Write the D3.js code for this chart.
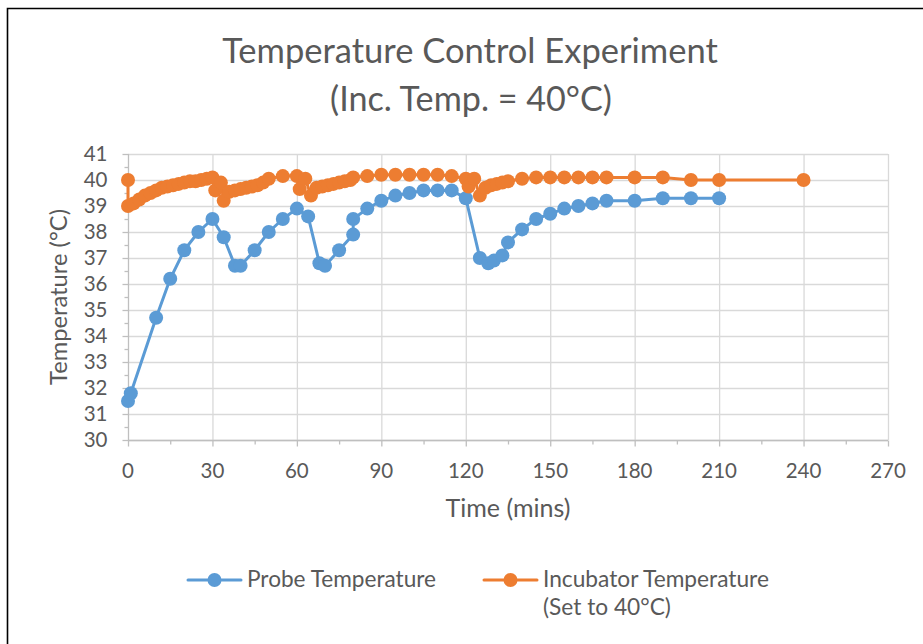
<!DOCTYPE html>
<html>
<head>
<meta charset="utf-8">
<script src="https://cdn.jsdelivr.net/npm/d3@7"></script>
<style>
  html, body { margin: 0; padding: 0; background: #fff; }
  svg { display: block; font-family: Lato, "Open Sans", sans-serif; }
</style>
</head>
<body>
<svg id="chart" width="923" height="644"></svg>
<script>
// ---- data ----
const titleLines = ["Temperature Control Experiment", "(Inc. Temp. = 40°C)"];
const xLabel = "Time (mins)";
const yLabel = "Temperature (°C)";
const seriesNames = ["Probe Temperature", "Incubator Temperature"];
const incubatorNote = "(Set to 40°C)";

const xTicks = [0, 30, 60, 90, 120, 150, 180, 210, 240, 270];
const yTicks = [30, 31, 32, 33, 34, 35, 36, 37, 38, 39, 40, 41];

const probeTime = [0, 1, 10, 15, 20, 25, 30, 34, 38, 40, 45, 50, 55, 60, 64, 68, 70, 75, 80, 80,
  85, 90, 95, 100, 105, 110, 115, 120, 125, 128, 130, 133, 135, 140, 145, 150, 155, 160, 165, 170,
  180, 190, 200, 210];
const probeTemp = [31.5, 31.8, 34.7, 36.2, 37.3, 38.0, 38.5, 37.8, 36.7, 36.7, 37.3, 38.0, 38.5, 38.9, 38.6, 36.8, 36.7, 37.3, 37.9, 38.5,
  38.9, 39.2, 39.4, 39.5, 39.6, 39.6, 39.6, 39.3, 37.0, 36.8, 36.9, 37.1, 37.6, 38.1, 38.5, 38.7, 38.9, 39.0, 39.1, 39.2,
  39.2, 39.3, 39.3, 39.3];

const incTime = [0, 0, 2, 4, 6, 8, 10, 12, 14, 16, 18, 20, 22, 24, 26, 28, 30, 31, 33, 34,
  36, 38, 40, 42, 44, 46, 48, 50, 55, 60, 61, 63, 65, 67, 69, 71, 73, 75, 77, 79,
  80, 85, 90, 95, 100, 105, 110, 115, 120, 121, 123, 125, 127, 129, 131, 133, 135, 140, 145, 150,
  155, 160, 165, 170, 180, 190, 200, 210, 240];
const incTemp = [40.0, 39.0, 39.1, 39.25, 39.4, 39.5, 39.6, 39.7, 39.75, 39.8, 39.85, 39.9, 39.95, 39.95, 40.0, 40.05, 40.1, 39.6, 39.9, 39.2,
  39.55, 39.6, 39.65, 39.7, 39.75, 39.8, 39.9, 40.05, 40.15, 40.15, 39.65, 40.05, 39.4, 39.7, 39.75, 39.8, 39.85, 39.9, 39.95, 40.0,
  40.1, 40.15, 40.2, 40.2, 40.2, 40.2, 40.2, 40.15, 40.05, 39.75, 40.05, 39.4, 39.7, 39.8, 39.85, 39.9, 39.95, 40.05, 40.1, 40.1,
  40.1, 40.1, 40.1, 40.1, 40.1, 40.1, 40.0, 40.0, 40.0];

// ---- layout ----
const W = 923, H = 644;
const plot = { left: 128, right: 888, top: 154, bottom: 440 };
const colors = { probe: "#5B9BD5", inc: "#ED7D31", text: "#595959", grid: "#D9D9D9", axis: "#BFBFBF" };

const svg = d3.select("#chart");

svg.append("rect").attr("width", W).attr("height", H).attr("fill", "#fff");
// frame (left and top visible; the rest falls outside the picture)
svg.append("path").attr("d", `M7.5,${H + 5} V8.5 H${W + 5}`)
  .attr("fill", "none").attr("stroke", "#000").attr("stroke-width", 1.6);

const x = d3.scaleLinear().domain([0, 270]).range([plot.left, plot.right]);
const y = d3.scaleLinear().domain([30, 41]).range([plot.bottom, plot.top]);

function fit(sel, target) {
  const node = sel.node();
  const fs = parseFloat(sel.attr("font-size"));
  const w = node.getComputedTextLength();
  if (w > 0) sel.attr("font-size", (fs * target / w).toFixed(2));
  return sel;
}

// gridlines
svg.append("g").selectAll("line").data(yTicks).join("line")
  .attr("x1", plot.left).attr("x2", plot.right)
  .attr("y1", d => y(d) + 0.5).attr("y2", d => y(d) + 0.5)
  .attr("stroke", colors.grid).attr("stroke-width", 1.3);
svg.append("g").selectAll("line").data(xTicks.slice(1)).join("line")
  .attr("x1", d => x(d) + 0.5).attr("x2", d => x(d) + 0.5)
  .attr("y1", plot.top).attr("y2", plot.bottom)
  .attr("stroke", colors.grid).attr("stroke-width", 1.3);

// axes
const xMinor = d3.range(0, 271, 15);
const yMinor = d3.range(30, 41.01, 0.5);
const tickFont = 20.5;
const gx = svg.append("g").attr("transform", `translate(0,${plot.bottom + 0.5})`);
gx.append("line").attr("x1", plot.left).attr("x2", plot.right).attr("stroke", colors.axis).attr("stroke-width", 1.3);
gx.selectAll("line.t").data(xMinor).join("line").attr("class", "t")
  .attr("x1", d => x(d) + 0.5).attr("x2", d => x(d) + 0.5)
  .attr("y1", 0).attr("y2", d => d % 30 === 0 ? 6 : 4)
  .attr("stroke", colors.axis).attr("stroke-width", 1.3);
gx.selectAll("text").data(xTicks).join("text")
  .attr("x", d => x(d)).attr("y", 37)
  .attr("text-anchor", "middle").attr("font-size", tickFont).attr("fill", colors.text)
  .text(d => d);

const gy = svg.append("g").attr("transform", `translate(${plot.left + 0.5},0)`);
gy.append("line").attr("y1", plot.top).attr("y2", plot.bottom).attr("stroke", colors.axis).attr("stroke-width", 1.3);
gy.selectAll("line.t").data(yMinor).join("line").attr("class", "t")
  .attr("y1", d => y(d) + 0.5).attr("y2", d => y(d) + 0.5)
  .attr("x1", d => Number.isInteger(d) ? -6 : -4).attr("x2", 0)
  .attr("stroke", colors.axis).attr("stroke-width", 1.3);
gy.selectAll("text").data(yTicks).join("text")
  .attr("x", -21).attr("y", d => y(d)).attr("dy", "0.36em")
  .attr("text-anchor", "end").attr("font-size", tickFont).attr("fill", colors.text)
  .text(d => d);

// axis titles
fit(svg.append("text").attr("x", 508).attr("y", 517).attr("text-anchor", "middle")
  .attr("font-size", 20).attr("fill", colors.text).text(xLabel), 125);
fit(svg.append("text").attr("transform", `translate(67,${(plot.top + plot.bottom) / 2}) rotate(-90)`)
  .attr("text-anchor", "middle").attr("font-size", 20).attr("fill", colors.text).text(yLabel), 176);

// title
fit(svg.append("text").attr("x", 470).attr("y", 63).attr("text-anchor", "middle")
  .attr("font-size", 30).attr("fill", colors.text).text(titleLines[0]), 496);
fit(svg.append("text").attr("x", 471).attr("y", 111).attr("text-anchor", "middle")
  .attr("font-size", 30).attr("fill", colors.text).text(titleLines[1]), 282);

// series
const probe = probeTime.map((t, i) => [t, probeTemp[i]]);
const inc = incTime.map((t, i) => [t, incTemp[i]]);
const line = d3.line().x(d => x(d[0])).y(d => y(d[1]));
const R = 7;

function drawSeries(data, color) {
  const g = svg.append("g");
  g.append("path").datum(data).attr("d", line)
    .attr("fill", "none").attr("stroke", color).attr("stroke-width", 3)
    .attr("stroke-linejoin", "round").attr("stroke-linecap", "round");
  g.selectAll("circle").data(data).join("circle")
    .attr("cx", d => x(d[0])).attr("cy", d => y(d[1])).attr("r", R)
    .attr("fill", color);
}
drawSeries(probe, colors.probe);
drawSeries(inc, colors.inc);

// legend
const legend = [
  { name: seriesNames[0], color: colors.probe, x0: 188, w: 189, note: null },
  { name: seriesNames[1], color: colors.inc, x0: 484, w: 226, note: incubatorNote }
];
legend.forEach(l => {
  const g = svg.append("g");
  g.append("line").attr("x1", l.x0).attr("x2", l.x0 + 53).attr("y1", 580).attr("y2", 580)
    .attr("stroke", l.color).attr("stroke-width", 3).attr("stroke-linecap", "round");
  g.append("circle").attr("cx", l.x0 + 26.5).attr("cy", 580).attr("r", R).attr("fill", l.color);
  const t = fit(g.append("text").attr("x", l.x0 + 59).attr("y", 587).attr("font-size", 19)
    .attr("fill", colors.text).text(l.name), l.w);
  if (l.note) {
    g.append("text").attr("x", l.x0 + 59).attr("y", 615).attr("font-size", t.attr("font-size"))
      .attr("fill", colors.text).text(l.note);
  }
});
</script>
</body>
</html>
